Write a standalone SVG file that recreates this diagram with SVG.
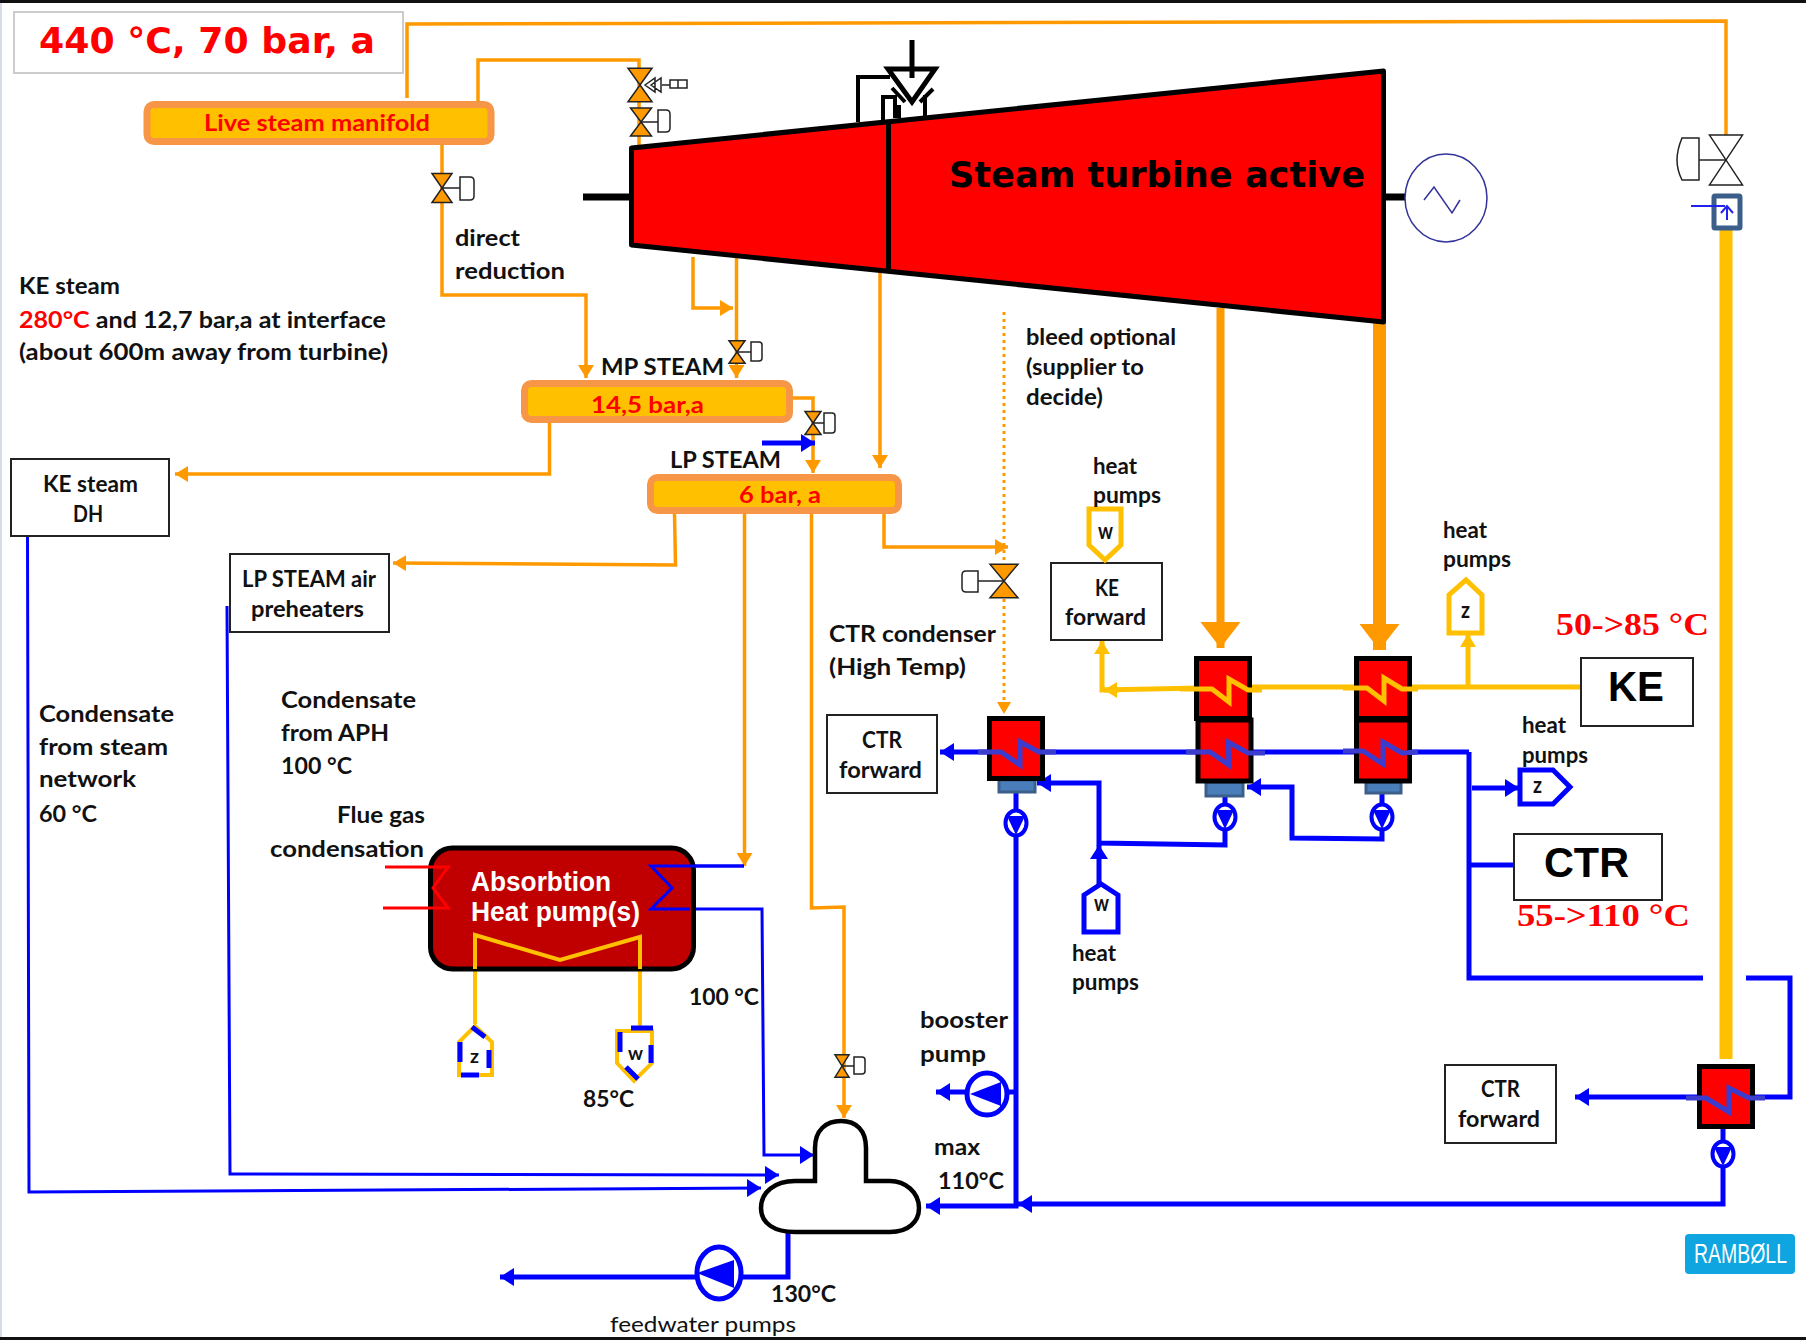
<svg xmlns="http://www.w3.org/2000/svg" width="1806" height="1340" viewBox="0 0 1806 1340">
<style>
text{font-family:Lato,"Liberation Sans",sans-serif;font-weight:700;fill:#111;font-size:22px}
.sans{font-family:"DejaVu Sans","Liberation Sans",sans-serif}
.r{fill:#f00}
.serif{font-family:"Liberation Serif",serif;fill:#f00;font-size:32px}
.n{font-weight:400}
.p{fill:none;stroke-linejoin:miter}
.o{stroke:#f90;stroke-width:3.5}
.y{stroke:#ffc000;stroke-width:5}
.b{stroke:#00f;stroke-width:5}
.bt{stroke:#00f;stroke-width:3}
.box{fill:#fff;stroke:#222;stroke-width:2}
.man{fill:#ffc000;stroke:#f79646;stroke-width:7}
.he{fill:#f00;stroke:#000;stroke-width:5}
.plate{fill:#4a7ebb;stroke:#3b5f8a;stroke-width:3}
.zb{fill:none;stroke:#3c3ccf;stroke-width:5}
.zy{fill:none;stroke:#ffc000;stroke-width:5}
.vb{stroke:#222;stroke-width:1.5;vector-effect:non-scaling-stroke}
.act{fill:#fff;stroke:#222;stroke-width:1.5}
.k{fill:none;stroke:#000;stroke-width:5}
.pump{fill:#fff;stroke:#00f;stroke-width:4}
.hp{fill:#fff;stroke-width:5}
</style>
<defs>
<polygon id="vo" class="vb" fill="#f90" points="-10,-14 10,-14 -10,14 10,14"/>
<polygon id="vw" class="vb" fill="#fff" points="-10,-14 10,-14 -10,14 10,14"/>
<marker id="ao" markerUnits="userSpaceOnUse" markerWidth="13" markerHeight="16" refX="13" refY="8" orient="auto"><path d="M0,0L13,8L0,16Z" fill="#f90"/></marker>
<marker id="ay" markerUnits="userSpaceOnUse" markerWidth="13" markerHeight="16" refX="13" refY="8" orient="auto"><path d="M0,0L13,8L0,16Z" fill="#ffc000"/></marker>
<marker id="ab" markerUnits="userSpaceOnUse" markerWidth="14" markerHeight="18" refX="14" refY="9" orient="auto"><path d="M0,0L14,9L0,18Z" fill="#00f"/></marker>
<marker id="aB" markerUnits="userSpaceOnUse" markerWidth="26" markerHeight="40" refX="26" refY="20" orient="auto"><path d="M0,0L26,20L0,40Z" fill="#f90"/></marker>
</defs>
<rect width="1806" height="1340" fill="#fff"/>
<rect width="2" height="1340" fill="#d6dce8"/>
<rect width="1806" height="3" fill="#111"/>
<rect y="1337" width="1806" height="3" fill="#111"/>

<g id="connectors">
<path class="p o" d="M407,98V24L1726,21V135"/>
<path class="p o" d="M478,104V60H639V146"/>
<path class="p o" d="M442,145V295H586V378" marker-end="url(#ao)"/>
<path class="p o" d="M693,257V308H733" marker-end="url(#ao)"/>
<path class="p o" d="M736.500,258V378" marker-end="url(#ao)"/>
<path class="p o" d="M880,272V468" marker-end="url(#ao)"/>
<path class="p" stroke="#f90" stroke-width="8" d="M1220.500,308V648" marker-end="url(#aB)"/>
<path class="p" stroke="#f90" stroke-width="13" d="M1379.500,323V650" marker-end="url(#aB)"/>
<path class="p" stroke="#f90" stroke-width="3" stroke-dasharray="3 4" d="M1004,312V700"/>
<path d="M997,702H1011L1004,714Z" fill="#f90"/>
<path class="p o" d="M549.500,423V474H175" marker-end="url(#ao)"/>
<path class="p o" d="M793,398H813V473" marker-end="url(#ao)"/>
<path class="p" stroke="#00f" stroke-width="5" d="M762,443H815" marker-end="url(#ab)"/>
<path class="p o" d="M674.500,514L675.500,565L393,563" marker-end="url(#ao)"/>
<path class="p o" d="M744.500,514V866" marker-end="url(#ao)"/>
<path class="p o" d="M811.500,514V908L844,907V1118" marker-end="url(#ao)"/>
<path class="p o" d="M884,514V547H1008" marker-end="url(#ao)"/>
<path class="p" stroke="#ffc000" stroke-width="13" d="M1726,229V1059"/>
<path class="p bt" d="M27.500,536L29,1192L761,1188" marker-end="url(#ab)"/>
<path class="p bt" d="M227,606L230,1174L779,1175" marker-end="url(#ab)"/>
<path class="p bt" d="M651,909H762L764,1155H814" marker-end="url(#ab)"/>
<path class="p bt" d="M651,866H744"/>
<path class="p y" d="M1580,687H1250L1102,690V641" marker-end="url(#ay)"/>
<path class="p y" d="M1119,690H1104" marker-end="url(#ay)"/>
<path class="p y" d="M1468,687V634" marker-end="url(#ay)"/>
<path class="p" stroke="#ffc000" stroke-width="4" d="M475,1024V935L560,960L640,937V1028"/>
<path class="p b" d="M1469,752H940" marker-end="url(#ab)"/>
<path class="p b" d="M1469,752V978H1703"/>
<path class="p b" d="M1746,978H1790V1097H1575" marker-end="url(#ab)"/>
<path class="p b" d="M1472,788H1519" marker-end="url(#ab)"/>
<path class="p b" d="M1469,865H1514"/>
<path class="p b" d="M1225,792V845L1099,843V783H1037" marker-end="url(#ab)"/>
<path class="p b" d="M1382,792V839L1292,838V787H1247" marker-end="url(#ab)"/>
<path class="p b" d="M1099,885V845" marker-end="url(#ab)"/>
<path class="p b" d="M1016,790V1206H926" marker-end="url(#ab)"/>
<path class="p b" d="M1723,1128V1204H1018" marker-end="url(#ab)"/>
<path class="p b" d="M1016,1092H960L936,1092" marker-end="url(#ab)"/>
<path class="p b" d="M788,1233V1277H500" marker-end="url(#ab)"/>
</g>

<g id="title"><rect x="14" y="12" width="389" height="61" fill="#fff" stroke="#ccc" stroke-width="2"/><text class="sans r" x="39" y="53" style="font-size:36px" textLength="336" lengthAdjust="spacingAndGlyphs">440 °C, 70 bar, a</text></g>

<g id="live-steam-manifold"><rect class="man" x="147" y="104.500" width="344" height="37" rx="7"/><text class="r" x="204" y="131" textLength="226" lengthAdjust="spacingAndGlyphs">Live steam manifold</text></g>
<g id="mp-manifold"><rect class="man" x="524.500" y="383.500" width="265" height="36" rx="7"/><text class="r" x="591" y="413" textLength="113" lengthAdjust="spacingAndGlyphs">14,5 bar,a</text></g>
<text x="601" y="375" textLength="123" lengthAdjust="spacingAndGlyphs">MP STEAM</text>
<g id="lp-manifold"><rect class="man" x="650.500" y="477.500" width="248" height="33" rx="7"/><text class="r" x="739" y="503" textLength="82" lengthAdjust="spacingAndGlyphs">6 bar, a</text></g>
<text x="670" y="468" textLength="111" lengthAdjust="spacingAndGlyphs">LP STEAM</text>

<g id="turbine">
<path class="k" d="M583,197H631M1385,197H1405" style="stroke-width:7"/>
<polygon points="631.500,148 1383.500,71 1383.500,322 631.500,245" fill="#f00" stroke="#000" stroke-width="5" stroke-linejoin="round"/>
<path d="M888.500,123V271" stroke="#000" stroke-width="5"/>
<text class="sans" x="949" y="187" style="font-size:36px;fill:#000" textLength="416" lengthAdjust="spacingAndGlyphs">Steam turbine active</text>
</g>
<g id="trip-valve">
<path d="M912,40V78" stroke="#000" stroke-width="5"/>
<polygon points="888,69 935,69 912,102" fill="none" stroke="#000" stroke-width="5"/>
<path class="k" style="stroke-width:4" d="M858,122V77H890M883,120V97H895V118M892,88L905,102M933,89L920,102M925,95V118M899,105V118"/>
</g>
<g id="generator">
<ellipse cx="1446" cy="198" rx="41" ry="44" fill="#fff" stroke="#33339a" stroke-width="1.500"/>
<path d="M1424,200L1434,187L1452,213L1460,200" fill="none" stroke="#33339a" stroke-width="1.500"/>
</g>

<g id="valves">
<g id="v1"><use href="#vo" transform="translate(640,85) scale(1.2,1.2)"/><path class="act" d="M662,85H670M670,80H687V88H670ZM678,80V88M645,85L655,78V92ZM651,85L661,78V92Z"/></g>
<g id="v2"><use href="#vo" transform="translate(641,122) scale(1.05,1)"/><path class="act" d="M641,122H658"/><path class="act" d="M658,110H666Q670,110 670,114V128Q670,132 666,132H658Z"/></g>
<g id="v3"><use href="#vo" transform="translate(442,188) scale(1,1.04)"/><path class="act" d="M442,188H460"/><path class="act" d="M460,177H470Q474,177 474,181V196Q474,200 470,200H460Z"/></g>
<g id="v4"><use href="#vo" transform="translate(737,352) scale(.8,.8)"/><path class="act" d="M737,352H751"/><path class="act" d="M751,342H759Q762,342 762,345V358Q762,361 759,361H751Z"/></g>
<g id="v5"><use href="#vo" transform="translate(813,423) scale(.8,.82)"/><path class="act" d="M813,423H824"/><path class="act" d="M824,413H832Q835,413 835,416V430Q835,433 832,433H824Z"/></g>
<g id="v6"><use href="#vo" transform="translate(1004,581) scale(1.4,1.2)"/><path class="act" d="M1004,581H978"/><path class="act" d="M978,571H966Q962,571 962,575V588Q962,592 966,592H978Z"/></g>
<g id="v7"><use href="#vo" transform="translate(842,1066) scale(.7,.8)"/><path class="act" d="M842,1066H854"/><path class="act" d="M854,1057H862Q865,1057 865,1060V1071Q865,1074 862,1074H854Z"/></g>
<g id="v8"><use href="#vw" transform="translate(1726,160) scale(1.65,1.78)"/><path class="act" d="M1726,160H1699"/><path class="act" d="M1699,138H1682Q1677,150 1677,160Q1677,170 1682,180H1699Z"/></g>
</g>
<g id="desuperheater">
<rect x="1714" y="196" width="26" height="32" fill="#fff" stroke="#3b5f8a" stroke-width="5" rx="1"/>
<path d="M1691,206H1725M1727,220V206M1721,213L1727,206L1733,213" fill="none" stroke="#2222ee" stroke-width="2"/>
</g>

<g id="ke-steam-dh"><rect class="box" x="11" y="459" width="158" height="77"/><text x="43" y="492" textLength="95" lengthAdjust="spacingAndGlyphs">KE steam</text><text x="73" y="522" textLength="30" lengthAdjust="spacingAndGlyphs">DH</text></g>
<g id="lp-aph"><rect class="box" x="230" y="554" width="159" height="78"/><text x="242" y="587" textLength="134" lengthAdjust="spacingAndGlyphs">LP STEAM air</text><text x="251" y="617" textLength="113" lengthAdjust="spacingAndGlyphs">preheaters</text></g>
<g id="ctr-forward-1"><rect class="box" x="827" y="715" width="110" height="78"/><text x="862" y="748" textLength="40" lengthAdjust="spacingAndGlyphs">CTR</text><text x="839" y="778" textLength="83" lengthAdjust="spacingAndGlyphs">forward</text></g>
<g id="ke-forward"><rect class="box" x="1051" y="563" width="111" height="77"/><text x="1095" y="596" textLength="24" lengthAdjust="spacingAndGlyphs">KE</text><text x="1065" y="625" textLength="81" lengthAdjust="spacingAndGlyphs">forward</text></g>
<g id="ctr-forward-2"><rect class="box" x="1445" y="1065" width="111" height="78"/><text x="1481" y="1097" textLength="39" lengthAdjust="spacingAndGlyphs">CTR</text><text x="1458" y="1127" textLength="82" lengthAdjust="spacingAndGlyphs">forward</text></g>
<g id="ke"><rect class="box" x="1581" y="658" width="112" height="68"/><text x="1608" y="701" style="font-family:'Liberation Sans',sans-serif;font-size:42px;fill:#000" textLength="56" lengthAdjust="spacingAndGlyphs">KE</text></g>
<g id="ctr"><rect class="box" x="1514" y="834" width="148" height="66"/><text x="1544" y="877" style="font-family:'Liberation Sans',sans-serif;font-size:42px;fill:#000" textLength="85" lengthAdjust="spacingAndGlyphs">CTR</text></g>

<g id="he-upper-1"><rect class="he" x="1196.500" y="658.500" width="53" height="60"/><path class="zy" d="M1180,689H1212L1229,702V679L1248,690H1262"/></g>
<g id="he-lower-1"><rect class="plate" x="1206" y="782" width="37" height="14"/><rect class="he" x="1198" y="720" width="53" height="61"/><path class="zb" d="M1186,752H1210L1229,765L1228,742L1248,753H1265"/></g>
<g id="he-upper-2"><rect class="he" x="1356.500" y="658.500" width="53" height="60"/><path class="zy" d="M1343,688H1367L1384,701V678L1402,689H1418"/></g>
<g id="he-lower-2"><rect class="plate" x="1366" y="782" width="35" height="11"/><rect class="he" x="1356.500" y="720" width="53" height="61"/><path class="zb" d="M1343,751H1363L1383,764V742L1402,753L1418,752"/></g>
<g id="he-left"><rect class="plate" x="999" y="780" width="36" height="12"/><rect class="he" x="989.500" y="718.500" width="53" height="60"/><path class="zb" d="M978,752H1001L1020,765V742L1039,752H1056"/></g>
<g id="he-right"><rect class="he" x="1699.500" y="1066.500" width="53" height="60"/><path class="zb" d="M1686,1098H1706L1729,1112V1088L1749,1098H1765"/></g>

<g id="pumps">
<g id="pump-1"><ellipse class="pump" cx="1016" cy="823" rx="10.500" ry="12.500"/><path d="M1007,816H1025L1016,835Z" fill="#00f"/></g>
<g id="pump-2"><ellipse class="pump" cx="1225" cy="817" rx="10.500" ry="12.500"/><path d="M1216,810H1234L1225,829Z" fill="#00f"/></g>
<g id="pump-3"><ellipse class="pump" cx="1382" cy="817" rx="10.500" ry="12.500"/><path d="M1373,810H1391L1382,829Z" fill="#00f"/></g>
<g id="pump-4"><ellipse class="pump" cx="1723" cy="1154" rx="10.500" ry="12.500"/><path d="M1714,1147H1732L1723,1166Z" fill="#00f"/></g>
<g id="booster-pump"><ellipse class="pump" style="stroke-width:5" cx="987" cy="1094" rx="20" ry="21"/><path d="M970,1094L1001,1082V1106Z" fill="#00f"/></g>
<g id="feedwater-pump"><ellipse class="pump" style="stroke-width:5" cx="719" cy="1273" rx="22" ry="26"/><path d="M697,1273L734,1260V1288Z" fill="#00f"/></g>
</g>

<g id="absorption-heat-pump">
<rect x="430.500" y="848" width="263" height="121" rx="22" fill="#c00000" stroke="#000" stroke-width="5"/>
<path class="p" stroke="#f00" stroke-width="3" d="M385,867H448L433,888L448,908H383"/>
<path class="p bt" d="M744,866H651L672,888L651,909H690"/>
<path class="p" stroke="#ffc000" stroke-width="4" d="M475,969V935L560,960L640,937V969"/>
<text x="471" y="891" style="font-family:'Liberation Sans',sans-serif;font-size:27px;fill:#fff" textLength="140" lengthAdjust="spacingAndGlyphs">Absorbtion</text>
<text x="471" y="921" style="font-family:'Liberation Sans',sans-serif;font-size:27px;fill:#fff" textLength="169" lengthAdjust="spacingAndGlyphs">Heat pump(s)</text>
</g>
<g id="deaerator"><path d="M815,1181V1148C815,1130 826,1121 841,1121C856,1121 866,1130 866,1148V1181H890C905,1181 919,1192 919,1208C919,1222 908,1232 890,1232H795C775,1232 761,1224 761,1208C761,1192 775,1181 795,1181Z" fill="#fff" stroke="#000" stroke-width="4.500"/></g>

<g id="hp-w-yellow"><path class="hp" stroke="#ffc000" d="M1089,509H1121V545L1105,560L1089,545Z"/><text x="1098" y="539" textLength="15" lengthAdjust="spacingAndGlyphs">w</text></g>
<g id="hp-z-yellow"><path class="hp" stroke="#ffc000" d="M1449,633V595L1466,580L1482,595V633Z"/><text x="1461" y="618" textLength="9" lengthAdjust="spacingAndGlyphs">z</text></g>
<g id="hp-z-blue-right"><path class="hp" stroke="#00f" d="M1520,770H1553L1570,787L1553,804H1520Z"/><text x="1533" y="793" textLength="9" lengthAdjust="spacingAndGlyphs">z</text></g>
<g id="hp-w-blue"><path class="hp" stroke="#00f" d="M1084,932V895L1101,884L1118,895V932Z"/><text x="1094" y="911" textLength="15" lengthAdjust="spacingAndGlyphs">w</text></g>
<g id="hp-z-abs"><path class="hp" stroke="#ffc000" style="stroke-width:4" d="M459,1075V1042L475,1026L492,1042V1075Z"/><path d="M460,1042V1062M472,1027L485,1037M489,1050V1068M461,1075H479" fill="none" stroke="#00f" stroke-width="5"/><text x="470" y="1063" style="font-size:18px" textLength="9" lengthAdjust="spacingAndGlyphs">z</text></g>
<g id="hp-w-abs"><path class="hp" stroke="#ffc000" style="stroke-width:4" d="M617,1031H652V1063L634,1081L617,1063Z"/><path d="M631,1028H653M620,1032V1052M651,1045V1063M626,1067L638,1079" fill="none" stroke="#00f" stroke-width="5"/><text x="628" y="1060" style="font-size:18px" textLength="15" lengthAdjust="spacingAndGlyphs">w</text></g>

<g id="labels">
<text x="19" y="294" textLength="101" lengthAdjust="spacingAndGlyphs">KE steam</text>
<text x="19" y="328" textLength="367" lengthAdjust="spacingAndGlyphs"><tspan class="r">280°C</tspan> and 12,7 bar,a at interface</text>
<text x="19" y="360" textLength="369" lengthAdjust="spacingAndGlyphs">(about 600m away from turbine)</text>
<text x="455" y="246" textLength="65" lengthAdjust="spacingAndGlyphs">direct</text>
<text x="455" y="279" textLength="110" lengthAdjust="spacingAndGlyphs">reduction</text>
<text x="39" y="722" textLength="135" lengthAdjust="spacingAndGlyphs">Condensate</text>
<text x="39" y="755" textLength="129" lengthAdjust="spacingAndGlyphs">from steam</text>
<text x="39" y="787" textLength="97" lengthAdjust="spacingAndGlyphs">network</text>
<text x="39" y="822" textLength="58" lengthAdjust="spacingAndGlyphs">60 °C</text>
<text x="281" y="708" textLength="135" lengthAdjust="spacingAndGlyphs">Condensate</text>
<text x="281" y="741" textLength="108" lengthAdjust="spacingAndGlyphs">from APH</text>
<text x="281" y="774" textLength="71" lengthAdjust="spacingAndGlyphs">100 °C</text>
<text x="337" y="823" textLength="88" lengthAdjust="spacingAndGlyphs">Flue gas</text>
<text x="270" y="857" textLength="154" lengthAdjust="spacingAndGlyphs">condensation</text>
<text x="829" y="642" textLength="167" lengthAdjust="spacingAndGlyphs">CTR condenser</text>
<text x="829" y="675" textLength="137" lengthAdjust="spacingAndGlyphs">(High Temp)</text>
<text x="1026" y="345" textLength="150" lengthAdjust="spacingAndGlyphs">bleed optional</text>
<text x="1026" y="375" textLength="118" lengthAdjust="spacingAndGlyphs">(supplier to</text>
<text x="1026" y="405" textLength="77" lengthAdjust="spacingAndGlyphs">decide)</text>
<text x="1093" y="474" textLength="44" lengthAdjust="spacingAndGlyphs">heat</text>
<text x="1093" y="503" textLength="68" lengthAdjust="spacingAndGlyphs">pumps</text>
<text x="1443" y="538" textLength="44" lengthAdjust="spacingAndGlyphs">heat</text>
<text x="1443" y="567" textLength="68" lengthAdjust="spacingAndGlyphs">pumps</text>
<text x="1522" y="733" textLength="44" lengthAdjust="spacingAndGlyphs">heat</text>
<text x="1522" y="763" textLength="66" lengthAdjust="spacingAndGlyphs">pumps</text>
<text x="1072" y="961" textLength="44" lengthAdjust="spacingAndGlyphs">heat</text>
<text x="1072" y="990" textLength="67" lengthAdjust="spacingAndGlyphs">pumps</text>
<text class="serif" x="1556" y="635" textLength="153" lengthAdjust="spacingAndGlyphs">50-&gt;85 °C</text>
<text class="serif" x="1517" y="926" textLength="173" lengthAdjust="spacingAndGlyphs">55-&gt;110 °C</text>
<text x="920" y="1028" textLength="88" lengthAdjust="spacingAndGlyphs">booster</text>
<text x="920" y="1062" textLength="66" lengthAdjust="spacingAndGlyphs">pump</text>
<text x="934" y="1155" textLength="46" lengthAdjust="spacingAndGlyphs">max</text>
<text x="938" y="1189" textLength="66" lengthAdjust="spacingAndGlyphs">110°C</text>
<text x="583" y="1107" textLength="51" lengthAdjust="spacingAndGlyphs">85°C</text>
<text x="689" y="1005" textLength="70" lengthAdjust="spacingAndGlyphs">100 °C</text>
<text x="771" y="1302" textLength="65" lengthAdjust="spacingAndGlyphs">130°C</text>
<text class="n" x="610" y="1332" textLength="186" lengthAdjust="spacingAndGlyphs">feedwater pumps</text>
</g>
<g id="logo"><rect x="1685" y="1234" width="110" height="40" rx="4" fill="#0ea5e0"/><text x="1694" y="1263" style="font-family:'Liberation Sans',sans-serif;font-size:27px;font-weight:400;fill:#fff" textLength="93" lengthAdjust="spacingAndGlyphs">RAMBØLL</text></g>
</svg>
